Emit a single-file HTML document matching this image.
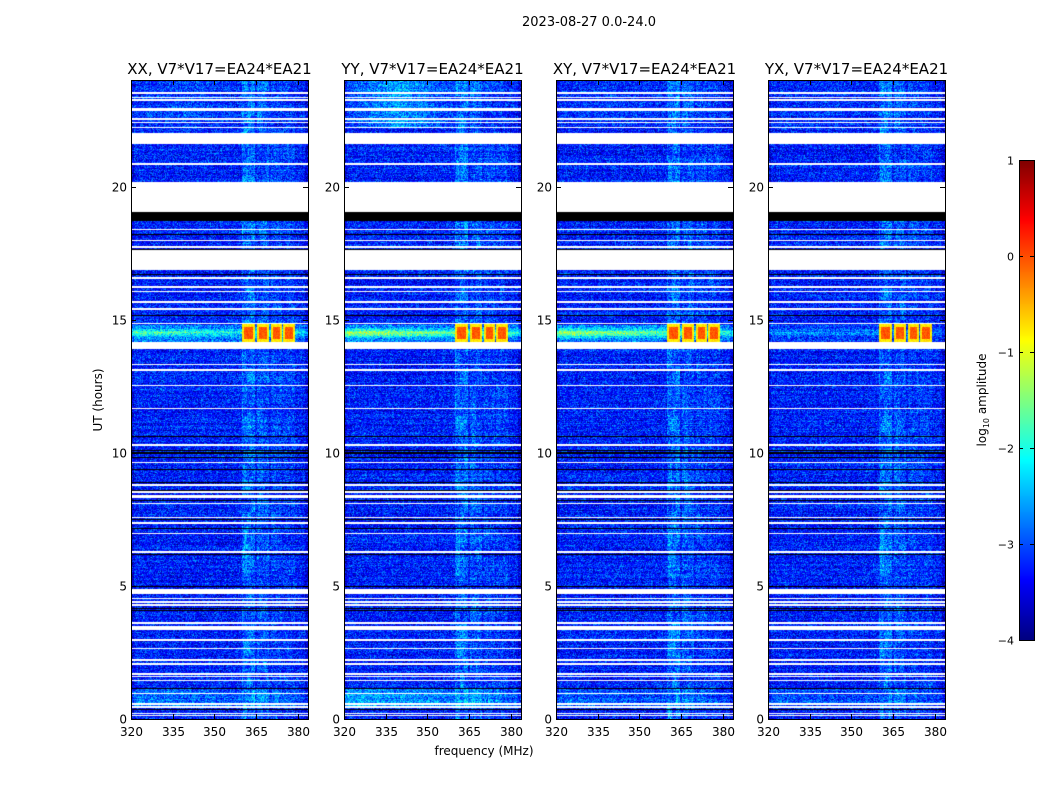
<!DOCTYPE html>
<html><head><meta charset="utf-8">
<style>
body{margin:0;background:#fff;width:1050px;height:800px;overflow:hidden;position:relative;font-family:"DejaVu Sans","Liberation Sans",sans-serif;}
canvas{position:absolute;}
svg{position:absolute;left:0;top:0;}
</style></head>
<body>
<div id="wrap"></div>
<svg id="ov" width="1050" height="800"></svg>
<script>
// ---- data ----
const panelTitles = ["XX, V7*V17=EA24*EA21","YY, V7*V17=EA24*EA21","XY, V7*V17=EA24*EA21","YX, V7*V17=EA24*EA21"];
const xTicks = [320,335,350,365,380];
const yTicks = [0,5,10,15,20];
const cbTicks = [1,0,-1,-2,-3,-4];
const whiteFlags = [[23.49,23.55],[23.32,23.38],[23.23,23.29],[22.89,22.95],[22.82,22.88],[22.51,22.57],[22.38,22.44],[22.19,22.25],
 [21.60,22.01],[20.82,20.88],[19.04,20.16],[18.36,18.42],[17.94,18.0],[17.69,17.75],[16.85,17.60],[16.54,16.60],[16.19,16.25],[16.03,16.09],
 [15.63,15.69],[15.38,15.44],[14.82,14.88],[13.97,14.16],[13.90,13.96],[13.28,13.34],[13.07,13.13],[12.50,12.56],[11.63,11.69],
 [10.25,10.31],[9.60,9.66],[8.75,8.81],[8.50,8.56],[8.30,8.43],[8.06,8.12],[7.54,7.60],[7.34,7.40],[6.94,7.0],[6.24,6.32],
 [4.71,4.87],[4.50,4.56],[4.37,4.43],[4.25,4.31],[3.58,3.64],[3.34,3.49],[2.93,2.99],[2.62,2.68],[2.18,2.24],[2.03,2.09],
 [1.66,1.72],[1.56,1.62],[1.41,1.47],[0.93,0.99],[0.53,0.59],[0.43,0.49],[0.18,0.24],[0.12,0.16]];
const blackFlags = [[18.70,19.04],[18.17,18.21],[17.62,17.66],[16.67,16.71],[15.14,15.18],[10.60,10.64],[10.07,10.11],[9.97,10.01],
 [9.80,9.84],[9.36,9.40],[8.88,8.92],[8.57,8.61],[8.20,8.24],[7.48,7.52],[7.14,7.18],[6.16,6.20],[4.94,4.98],[4.13,4.17],[4.04,4.08],
 [1.13,1.17],[0.32,0.36]];
const rfiChan = [[360,364.6],[365.3,369.6],[370.4,374.2],[374.8,379]];
const rfiLevel = [0.4,0.3,0.2,0.15];
const burstHours = [14.17,14.82];
const burstLevel = -0.05;
const bandHours = [14.17,14.80];
const bandLevel = [1.6,2.1,2.0,0.6];
const topBoost = [0.2,0.7,0.1,0.1];
const lowBoost = [0.4,0.7,0.3,0.3];

// ---- layout ----
const PL=[131,344,556,768], PT=80, PW=177, PH=639;
const F0=320, F1=383.7, H0=0, H1=24;
const fx=(f,i)=>PL[i]+(f-F0)/(F1-F0)*PW;
const hy=h=>PT+PH-(h-H0)/(H1-H0)*PH;

function jet(t){t=Math.max(0,Math.min(1,t));const c=x=>Math.round(255*Math.max(0,Math.min(1,1.5-Math.abs(4*t-x))));return [c(3),c(2),c(1)];}
function hash(a,b,c){let h=(a*374761393+b*668265263+c*2147483647)|0;h=(h^(h>>>13))*1274126177|0;h=h^(h>>>16);return (h>>>0)/4294967296;}
const inR=(h,arr)=>arr.some(r=>h>=r[0]&&h<=r[1]);

const wrap=document.getElementById('wrap');
for(let p=0;p<4;p++){
  const cv=document.createElement('canvas');
  cv.width=PW;cv.height=PH;cv.style.left=PL[p]+'px';cv.style.top=PT+'px';
  
  
  wrap.appendChild(cv);
  const ctx=cv.getContext('2d');const img=ctx.createImageData(PW,PH);
  for(let y=0;y<PH;y++){
    const h=H1-(y+0.5)/PH*(H1-H0);
    const white=inR(h,whiteFlags), black=inR(h,blackFlags);
    const rowN=(hash(y,p,7)-0.5)*0.3;
    for(let x=0;x<PW;x++){
      const f=F0+(x+0.5)/PW*(F1-F0);
      let col;
      if(black) col=[0,0,0];
      else if(white) col=[255,255,255];
      else{
        let v=-3.25+rowN+(hash(x,y,p)+hash(y,x,p+11)-1)*0.75;
        if(x<3||x>PW-4) v-=0.3;
        for(let k=0;k<rfiChan.length;k++) if(f>=rfiChan[k][0]&&f<=rfiChan[k][1]) v+=rfiLevel[k]*(0.3+1.2*hash(x>>2,y>>4,k));
        if(h>=22.2&&f<360) v+=topBoost[p]*(1-Math.abs(f-340)/25);
        if(h>=0.4&&h<=1.15) v+=lowBoost[p]*(1-(f-F0)/(F1-F0)*0.6);
        if(h>=bandHours[0]&&h<=bandHours[1]){
          const m=1-Math.abs(h-14.5)/0.33;
          v+=bandLevel[p]*Math.max(0.3,m)*(1-(f-F0)/(F1-F0)*0.35);
        }
        if(h>=burstHours[0]&&h<=burstHours[1]){
          const dh=Math.abs(h-(burstHours[0]+burstHours[1])/2)/((burstHours[1]-burstHours[0])/2);
          for(const r of rfiChan) if(f>=r[0]&&f<=r[1]){
            const df=Math.abs(f-(r[0]+r[1])/2)/((r[1]-r[0])/2);
            const d=Math.max(dh,df);
            v=Math.max(v,burstLevel-(d>0.7?0.7:0)+(hash(x,y,99)-0.5)*0.3);
          }
        }
        col=jet((v+4)/5);
      }
      const o=(y*PW+x)*4;img.data[o]=col[0];img.data[o+1]=col[1];img.data[o+2]=col[2];img.data[o+3]=255;
    }
  }
  ctx.putImageData(img,0,0);
}
const cb=document.createElement('canvas');cb.width=15;cb.height=480;cb.style.left='1019px';cb.style.top='160px';


wrap.appendChild(cb);
{const c=cb.getContext('2d');for(let y=0;y<480;y++){const [r,g,b]=jet(1-(y+0.5)/480);c.fillStyle=`rgb(${r},${g},${b})`;c.fillRect(0,y,15,1);}}

const NS='http://www.w3.org/2000/svg', ov=document.getElementById('ov');
function el(tag,attrs,txt){const e=document.createElementNS(NS,tag);for(const k in attrs)e.setAttribute(k,attrs[k]);if(txt!=null)e.textContent=txt;ov.appendChild(e);return e;}
let t=el('text',{x:589,y:26,'font-size':13,'text-anchor':'middle'},'2023-08-27 0.0-24.0');


for(let p=0;p<4;p++){
  const fr=el('rect',{x:PL[p]+0.5,y:PT+0.5,width:PW,height:PH,fill:'none',stroke:'#000','stroke-width':1});
  
  
  const tt=el('text',{x:PL[p]+PW/2,y:74,'font-size':15,'text-anchor':'middle'},panelTitles[p]);
  
  
  xTicks.forEach(v=>{
    const x=Math.round(fx(v,p))+0.5;
    el('line',{x1:x,x2:x,y1:PT,y2:PT+5,stroke:'#000'});
    el('line',{x1:x,x2:x,y1:PT+PH,y2:PT+PH-5,stroke:'#000'});
    const l=el('text',{x:x,y:736,'font-size':12,'text-anchor':'middle'},String(v));
    
    
  });
  yTicks.forEach(v=>{
    const y=Math.round(hy(v))+0.5;
    el('line',{x1:PL[p],x2:PL[p]+5,y1:y,y2:y,stroke:'#000'});
    el('line',{x1:PL[p]+PW,x2:PL[p]+PW-5,y1:y,y2:y,stroke:'#000'});
    const l=el('text',{x:PL[p]-4,y:y+4,'font-size':12,'text-anchor':'end'},String(v));
    
    
  });
}
t=el('text',{x:484,y:755,'font-size':12,'text-anchor':'middle'},'frequency (MHz)');


t=el('text',{x:0,y:0,'font-size':12,'text-anchor':'middle',transform:'translate(102,400) rotate(-90)'},'UT (hours)');


t=el('rect',{x:1019.5,y:160.5,width:15,height:480,fill:'none',stroke:'#000'});


cbTicks.forEach(v=>{
  const y=Math.round(160+(1-v)/5*480)+0.5;
  el('line',{x1:1019,x2:1023,y1:y,y2:y,stroke:'#000'});
  el('line',{x1:1034,x2:1030,y1:y,y2:y,stroke:'#000'});
  const l=el('text',{x:1014,y:y+4,'font-size':11,'text-anchor':'end'},v<0?'\u2212'+(-v):String(v));
  
  
});
t=el('text',{x:0,y:0,'font-size':12,'text-anchor':'middle',transform:'translate(986,400) rotate(-90)'});
t.innerHTML='log<tspan font-size="8" dy="3">10</tspan><tspan dy="-3"> amplitude</tspan>';


</script>
</body></html>
